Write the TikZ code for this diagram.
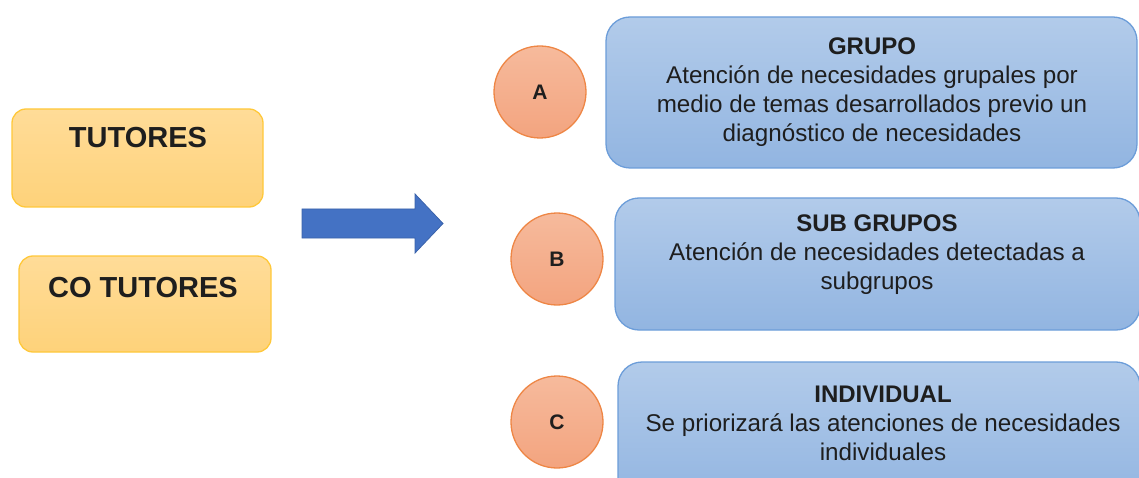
\documentclass[tikz,border=0pt]{standalone}
\usepackage{fontspec}
\setmainfont{Liberation Sans}
\definecolor{ybtop}{HTML}{FFDC98}
\definecolor{ybbot}{HTML}{FED27A}
\definecolor{ybdraw}{HTML}{FFC83A}
\definecolor{bbtop}{HTML}{B2CBEA}
\definecolor{bbbot}{HTML}{92B5E1}
\definecolor{bbdraw}{HTML}{6C9DD9}
\definecolor{ctop}{HTML}{F6BA9C}
\definecolor{cbot}{HTML}{F3A47F}
\definecolor{cdraw}{HTML}{EE8645}
\definecolor{arrfill}{HTML}{4472C4}
\definecolor{arrdraw}{HTML}{3A62AA}
\definecolor{txt}{HTML}{1E1E1E}
\tikzset{
  ybox/.style={draw=ybdraw, line width=1.3pt, rounded corners=14pt, top color=ybtop, bottom color=ybbot, inner sep=0pt},
  bbox/.style={draw=bbdraw, line width=1.3pt, rounded corners=24pt, top color=bbtop, bottom color=bbbot, inner sep=0pt},
  circ/.style={circle, draw=cdraw, line width=1.3pt, top color=ctop, bottom color=cbot, minimum size=92pt, inner sep=0pt, text=txt, font=\fontsize{21}{25}\selectfont\bfseries},
  ytext/.style={text=txt, inner sep=0pt, font=\fontsize{29}{34}\selectfont\bfseries},
  btext/.style={text=txt, inner sep=0pt, align=center, font=\fontsize{24.2}{29}\selectfont},
  bigarrow/.style={fill=arrfill, draw=arrdraw, line width=0.8pt}
}
\newcommand{\ttl}[1]{{\fontsize{24}{29}\selectfont\bfseries #1}}
\begin{document}
\begin{tikzpicture}[x=1pt,y=-1pt]
\useasboundingbox (0,0) rectangle (1139,478);
\clip (0,0) rectangle (1139,478);
% left boxes
\node[ybox, minimum width=251pt, minimum height=98pt] (tut) at (137.5,158) {};
\node[ytext] (tutT) at (138,138) {TUTORES};
\node[ybox, minimum width=252pt, minimum height=96pt] (cotut) at (145,304) {};
\node[ytext] (cotutT) at (143,288) {CO TUTORES};
% arrow
\path[bigarrow] (302,209) -- (415,209) -- (415,194) -- (443,223.5) -- (415,253) -- (415,238) -- (302,238) -- cycle;
% blue boxes
\node[bbox, minimum width=531pt, minimum height=151pt] (grupo) at (871.5,92.5) {};
\node[btext] (grupoT) at (872,92.5) {\ttl{GRUPO}\\Atención de necesidades grupales por\\medio de temas desarrollados previo un\\diagnóstico de necesidades};
\node[bbox, minimum width=525pt, minimum height=132pt] (sub) at (877.5,264) {};
\node[btext] (subT) at (877,255) {\ttl{SUB GRUPOS}\\Atención de necesidades detectadas a\\subgrupos};
\node[bbox, minimum width=522pt, minimum height=140pt] (ind) at (879,432) {};
\node[btext] (indT) at (883,423) {\ttl{INDIVIDUAL}\\Se priorizará las atenciones de necesidades\\individuales};
% circles
\node[circ] (A) at (540,92) {A};
\node[circ] (B) at (557,259) {B};
\node[circ] (C) at (557,422) {C};
\end{tikzpicture}
\end{document}
